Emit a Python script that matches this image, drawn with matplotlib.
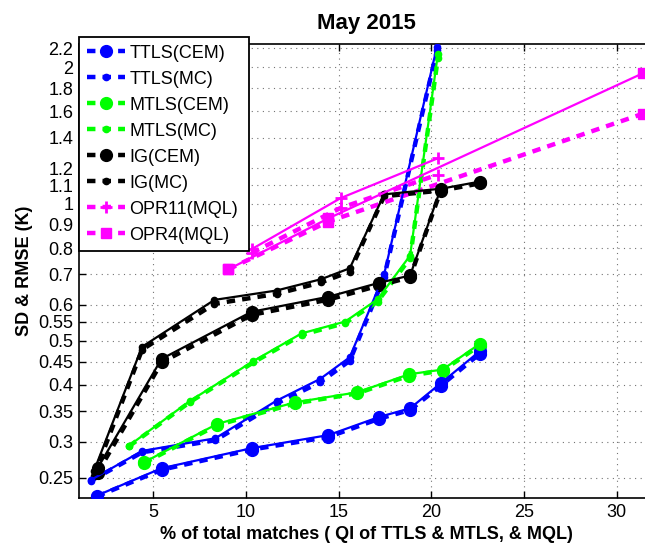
import matplotlib
matplotlib.use("Agg")
import matplotlib.pyplot as plt
from matplotlib.ticker import FixedLocator, FixedFormatter, NullLocator

plt.rcParams['font.family'] = ['Liberation Sans', 'DejaVu Sans']

# ---- data ----
ttls_cem_x = [1.95, 5.45, 10.3, 14.45, 17.2, 18.85, 20.5, 22.6]
ttls_cem_sd = [0.228, 0.262, 0.290, 0.310, 0.340, 0.355, 0.403, 0.474]
ttls_cem_rmse = [0.227, 0.260, 0.288, 0.307, 0.337, 0.352, 0.398, 0.468]

ttls_mc_x = [1.65, 4.4, 8.35, 11.65, 14.0, 15.6, 17.45, 20.3]
ttls_mc_sd = [0.247, 0.286, 0.305, 0.369, 0.412, 0.460, 0.70, 2.22]
ttls_mc_rmse = [0.246, 0.284, 0.302, 0.364, 0.405, 0.452, 0.69, 2.18]

mtls_cem_x = [4.5, 8.45, 12.65, 16.0, 18.8, 20.6, 22.6]
mtls_cem_sd = [0.270, 0.328, 0.366, 0.385, 0.422, 0.432, 0.492]
mtls_cem_rmse = [0.269, 0.326, 0.364, 0.383, 0.419, 0.430, 0.488]

mtls_mc_x = [3.7, 7.0, 10.4, 13.0, 15.35, 17.1, 18.85, 20.35]
mtls_mc_sd = [0.294, 0.369, 0.451, 0.519, 0.551, 0.617, 0.77, 2.14]
mtls_mc_rmse = [0.293, 0.367, 0.448, 0.515, 0.547, 0.610, 0.76, 2.10]

ig_cem_x = [2.0, 5.45, 10.3, 14.45, 17.2, 18.85, 20.5, 22.6]
ig_cem_sd = [0.262, 0.456, 0.579, 0.625, 0.671, 0.696, 1.08, 1.12]
ig_cem_rmse = [0.256, 0.448, 0.570, 0.616, 0.662, 0.690, 1.07, 1.11]

ig_mc_x = [1.8, 4.4, 8.3, 11.65, 14.05, 15.6, 17.45, 20.45]
ig_mc_sd = [0.258, 0.485, 0.615, 0.645, 0.683, 0.722, 1.05, 1.08]
ig_mc_rmse = [0.252, 0.478, 0.603, 0.634, 0.672, 0.710, 1.04, 1.07]

opr11_x = [10.3, 15.1, 20.33]
opr11_sd = [0.795, 1.03, 1.26]
opr11_rmse = [0.78, 0.98, 1.16]

opr4_x = [9.05, 14.45, 31.4]
opr4_sd = [0.718, 0.93, 1.94]
opr4_rmse = [0.718, 0.915, 1.58]

labels = ['TTLS(CEM)', 'TTLS(MC)', 'MTLS(CEM)', 'MTLS(MC)',
          'IG(CEM)', 'IG(MC)', 'OPR11(MQL)', 'OPR4(MQL)']
yticks = [0.25, 0.3, 0.35, 0.4, 0.45, 0.5, 0.55, 0.6, 0.7, 0.8, 0.9,
          1, 1.1, 1.2, 1.4, 1.6, 1.8, 2, 2.2]
ytick_labels = ['0.25', '0.3', '0.35', '0.4', '0.45', '0.5', '0.55', '0.6',
                '0.7', '0.8', '0.9', '1', '1.1', '1.2', '1.4', '1.6', '1.8',
                '2', '2.2']
xticks = [5, 10, 15, 20, 25, 30]

series = [
    (ttls_cem_x, ttls_cem_sd, ttls_cem_rmse, (0, 0, 1), 'o', 8.5),
    (ttls_mc_x, ttls_mc_sd, ttls_mc_rmse, (0, 0, 1), 'o', 4.5),
    (mtls_cem_x, mtls_cem_sd, mtls_cem_rmse, (0, 1, 0), 'o', 8.5),
    (mtls_mc_x, mtls_mc_sd, mtls_mc_rmse, (0, 1, 0), 'o', 4.5),
    (ig_cem_x, ig_cem_sd, ig_cem_rmse, (0, 0, 0), 'o', 8.5),
    (ig_mc_x, ig_mc_sd, ig_mc_rmse, (0, 0, 0), 'o', 4.5),
    (opr11_x, opr11_sd, opr11_rmse, (1, 0, 1), '+', 8),
    (opr4_x, opr4_sd, opr4_rmse, (1, 0, 1), 's', 7),
]

fig = plt.figure(figsize=(6.45, 5.43), dpi=100)
ax = fig.add_axes([79 / 645, 1 - 498.3 / 543, (654 - 79) / 645, (498.3 - 44) / 543])

dash = (0, (1.9, 1.6))
handles = []
for (x, sd, rm, col, mk, ms), lab in zip(series, labels):
    mew = 2 if mk == '+' else 1
    ax.plot(x, sd, '-', color=col, lw=1.6, marker=mk, ms=ms, mfc=col, mec=col,
            mew=mew, zorder=3)
    h, = ax.plot(x, rm, linestyle=dash, color=col, lw=3.2, marker=mk, ms=ms,
                 mfc=col, mec=col, mew=mew, zorder=2, label=lab,
                 dash_capstyle='butt')
    handles.append(h)

ax.set_yscale('log')
ax.set_ylim(0.225, 2.25)
ax.set_xlim(1.0, 32.0)
ax.yaxis.set_major_locator(FixedLocator(yticks))
ax.yaxis.set_major_formatter(FixedFormatter(ytick_labels))
ax.yaxis.set_minor_locator(NullLocator())
ax.set_xticks(xticks)
ax.set_xticklabels([str(v) for v in xticks])

ax.tick_params(axis='both', which='major', direction='in', length=5, width=1,
               labelsize=13, top=True, right=False, pad=4)
ax.grid(True, which='major', color='0.45', linestyle=(0, (1, 4)), lw=0.8)
ax.set_axisbelow(True)
for s in ['left', 'bottom', 'top']:
    ax.spines[s].set_linewidth(1.2)
ax.spines['right'].set_visible(False)

ax.set_title('May 2015', fontsize=16, fontweight='bold', pad=11)
ax.set_xlabel('% of total matches ( QI of TTLS & MTLS, & MQL)', fontsize=13,
              fontweight='bold', labelpad=4)
ax.set_ylabel('SD & RMSE (K)', fontsize=13, fontweight='bold', labelpad=4)

leg = ax.legend(handles=handles, loc='upper left',
                bbox_to_anchor=(0.0, 0.0, (249.3 - 79) / 575, 1.0154),
                mode='expand', fontsize=13, handlelength=2.1,
                handletextpad=0.28, labelspacing=0.5, borderpad=0.42,
                borderaxespad=0.0, fancybox=False, framealpha=1,
                edgecolor='black')
leg.get_frame().set_linewidth(1.3)
leg.set_zorder(10)

fig.savefig('out.png', dpi=100)
